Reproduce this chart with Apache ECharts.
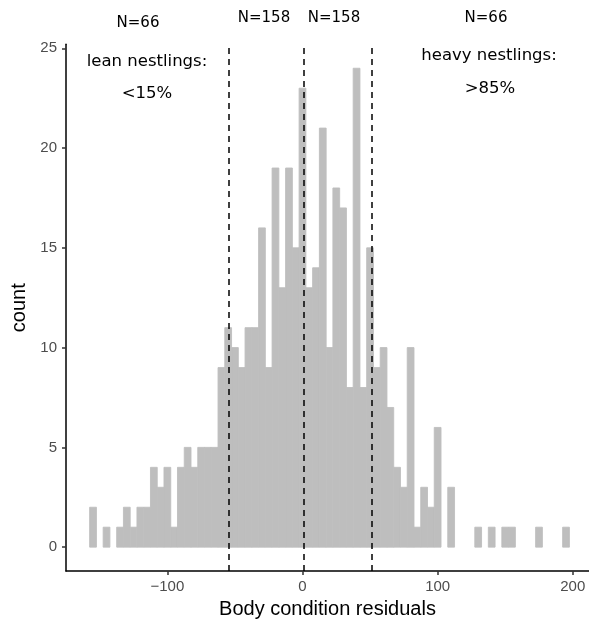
<!DOCTYPE html>
<html>
<head>
<meta charset="utf-8">
<script src="https://cdn.jsdelivr.net/npm/echarts@6/dist/echarts.min.js"></script>
<style>html,body{margin:0;padding:0;background:#fff}#c{width:589px;height:624px}</style>
</head>
<body>
<div id="c"></div>
<script>
// Histogram bin centres (binwidth 5)
var binCenters = [-155,-150,-145,-140,-135,-130,-125,-120,-115,-110,-105,-100,-95,-90,-85,-80,-75,-70,-65,-60,-55,-50,-45,-40,-35,-30,-25,-20,-15,-10,-5,0,5,10,15,20,25,30,35,40,45,50,55,60,65,70,75,80,85,90,95,100,105,110,115,120,125,130,135,140,145,150,155,160,165,170,175,180,185,190,195];
var binCounts  = [2,0,1,0,1,2,1,2,2,4,3,4,1,4,5,4,5,5,5,9,11,10,9,11,11,16,9,19,13,19,15,23,13,14,21,10,18,17,8,24,8,15,9,10,7,4,3,10,1,3,2,6,0,3,0,0,0,1,0,1,0,1,1,0,0,0,1,0,0,0,1];
var binWidth = 5;
// Quantile cut lines
var cutLines = [-54.6, 1.2, 51.1];
// Tick values
var xTicks = [-100, 0, 100, 200];
var yTicks = [0, 5, 10, 15, 20, 25];

var histData = binCenters.map(function (c, i) { return [c, binCounts[i]]; });

var chart = echarts.init(document.getElementById('c'), null, {renderer: 'canvas'});
var annFont = '"DejaVu Sans", Verdana, sans-serif';
function ann(text, x, y, size) {
  return {type: 'text', x: x, y: y, silent: true,
    style: {text: text, fill: '#000', font: size + 'px ' + annFont, align: 'center', verticalAlign: 'middle', textAlign: 'center', textVerticalAlign: 'middle'}};
}
var option = {
  animation: false,
  backgroundColor: '#fff',
  grid: {left: 66, right: 0, top: 44.3, bottom: 51.7, containLabel: false},
  xAxis: {
    type: 'value', min: -175, max: 212,
    name: 'Body condition residuals', nameLocation: 'middle', nameGap: 26,
    nameTextStyle: {fontFamily: '"Liberation Sans", Arial, sans-serif', fontSize: 20, color: '#000'},
    axisLine: {show: true, onZero: false, lineStyle: {color: '#000', width: 1.5}},
    axisTick: {show: true, length: 4, customValues: xTicks, lineStyle: {color: '#333', width: 1.5}},
    axisLabel: {customValues: xTicks, fontFamily: '"Liberation Sans", Arial, sans-serif', fontSize: 15, color: '#4d4d4d', margin: 8,
      formatter: function (v) { return String(v).replace('-', '\u2212'); }},
    splitLine: {show: false}
  },
  yAxis: {
    type: 'value', min: -1.2, max: 25.2,
    name: 'count', nameLocation: 'middle', nameGap: 34, nameRotate: 90,
    nameTextStyle: {fontFamily: '"Liberation Sans", Arial, sans-serif', fontSize: 20, color: '#000'},
    axisLine: {show: true, onZero: false, lineStyle: {color: '#000', width: 1.5}},
    axisTick: {show: true, length: 4, customValues: yTicks, lineStyle: {color: '#333', width: 1.5}},
    axisLabel: {customValues: yTicks, fontFamily: '"Liberation Sans", Arial, sans-serif', fontSize: 15, color: '#4d4d4d', margin: 9},
    splitLine: {show: false}
  },
  series: [
    {
      type: 'custom',
      data: histData,
      renderItem: function (params, api) {
        var c = api.value(0), n = api.value(1);
        if (n <= 0) return null;
        var p0 = api.coord([c - binWidth / 2, n]);
        var p1 = api.coord([c + binWidth / 2, 0]);
        return {type: 'rect', shape: {x: p0[0], y: p0[1], width: p1[0] - p0[0], height: p1[1] - p0[1]},
          style: {fill: '#bebebe', stroke: '#bebebe', lineWidth: 0.9}};
      },
      silent: true
    },
    {
      type: 'line', data: [], silent: true,
      markLine: {
        silent: true, symbol: ['none', 'none'], label: {show: false},
        lineStyle: {color: '#000', width: 1.5, type: [6, 5]},
        data: cutLines.map(function (v) { return {xAxis: v}; })
      }
    }
  ],
  graphic: [
    ann('N=66', 138, 23, 15),
    ann('lean nestlings:', 147, 62, 16.5),
    ann('<15%', 147, 94, 16.5),
    ann('N=158', 264, 18, 15),
    ann('N=158', 334, 18, 15),
    ann('N=66', 486, 18, 15),
    ann('heavy nestlings:', 489, 56, 16.5),
    ann('>85%', 490, 89, 16.5)
  ]
};
chart.setOption(option);
</script>
</body>
</html>
